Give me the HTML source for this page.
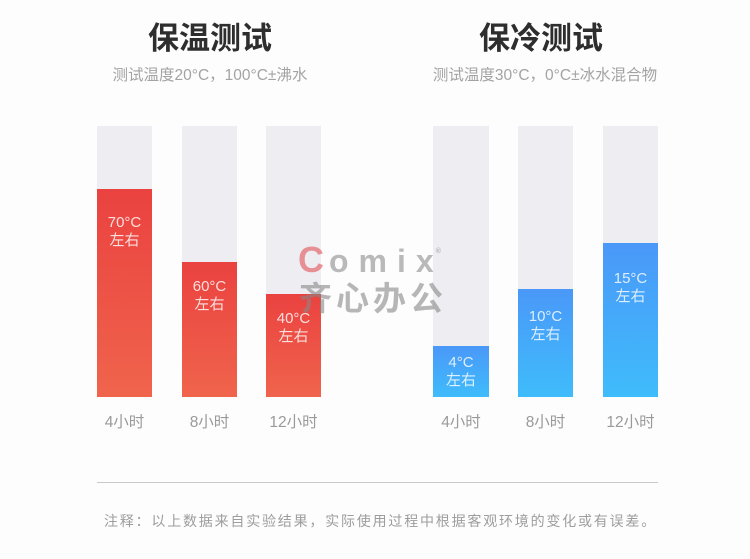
<!DOCTYPE html>
<html><head><meta charset="utf-8"><style>
*{margin:0;padding:0;box-sizing:border-box}
body{width:750px;height:559px;background:#fdfdfd;position:relative;overflow:hidden;font-family:"Liberation Sans","Noto Sans CJK SC",sans-serif}
.a{position:absolute}
.title{font-family:"Liberation Sans","Noto Sans CJK SC",sans-serif;font-weight:700;font-size:31px;color:#2e2e2e;width:300px;text-align:center;line-height:36px;top:21px}
.sub{font-size:15.5px;color:#a3a3a3;width:340px;text-align:center;line-height:20px;top:66px}
.bg{background:#eeeef2;top:126px;height:271px}
.red{background:linear-gradient(180deg,#ea4240 0%,#f0644c 100%)}
.blue{background:linear-gradient(180deg,#4a98f8 0%,#3fbcfb 100%)}
.bl{color:rgba(255,255,255,0.82);font-size:15px;text-align:center;line-height:18px;width:60px}
.xl{color:#9a9a9a;font-size:15.5px;text-align:center;width:80px;line-height:20px;top:413px}
</style></head><body>

<div class="a title" style="left:60px">保温测试</div>
<div class="a title" style="left:391px">保冷测试</div>
<div class="a sub" style="left:40px">测试温度20°C，100°C±沸水</div>
<div class="a sub" style="left:375px">测试温度30°C，0°C±冰水混合物</div>

<!-- left bars -->
<div class="a bg" style="left:97px;width:55px"></div>
<div class="a bg" style="left:182px;width:55px"></div>
<div class="a bg" style="left:266px;width:55px"></div>
<div class="a red" style="left:97px;width:55px;top:189px;height:208px"></div>
<div class="a red" style="left:182px;width:55px;top:262px;height:135px"></div>
<div class="a red" style="left:266px;width:55px;top:294px;height:103px"></div>

<!-- right bars -->
<div class="a bg" style="left:433px;width:56px"></div>
<div class="a bg" style="left:518px;width:55px"></div>
<div class="a bg" style="left:603px;width:55px"></div>
<div class="a blue" style="left:433px;width:56px;top:346px;height:51px"></div>
<div class="a blue" style="left:518px;width:55px;top:289px;height:108px"></div>
<div class="a blue" style="left:603px;width:55px;top:243px;height:154px"></div>

<!-- watermark -->
<div class="a" style="left:298px;top:243px;width:170px;height:34px;white-space:nowrap;font-family:'Liberation Sans',sans-serif;font-weight:700;line-height:34px">
<span style="font-size:36px;color:rgba(225,80,85,0.6);letter-spacing:5px">C</span><span style="font-size:32px;color:rgba(140,140,140,0.6);letter-spacing:10px">omix</span><span style="font-size:7px;color:rgba(140,140,140,0.6);vertical-align:top;position:relative;top:-8px;left:-8px">®</span>
</div>
<div class="a" style="left:299px;top:278px;width:160px;font-family:'Noto Sans CJK SC',sans-serif;font-weight:700;font-size:33px;line-height:36px;letter-spacing:4px;color:rgba(135,135,135,0.6);white-space:nowrap">齐心办公</div>

<!-- bar labels left -->
<div class="a bl" style="left:94.5px;top:214px">70°C<br>左右</div>
<div class="a bl" style="left:179.5px;top:278px">60°C<br>左右</div>
<div class="a bl" style="left:263.5px;top:310px">40°C<br>左右</div>
<!-- bar labels right -->
<div class="a bl" style="left:431px;top:354px">4°C<br>左右</div>
<div class="a bl" style="left:515.5px;top:308px">10°C<br>左右</div>
<div class="a bl" style="left:600.5px;top:270px">15°C<br>左右</div>

<!-- x labels -->
<div class="a xl" style="left:84.5px">4小时</div>
<div class="a xl" style="left:169.5px">8小时</div>
<div class="a xl" style="left:253.5px">12小时</div>
<div class="a xl" style="left:421px">4小时</div>
<div class="a xl" style="left:505.5px">8小时</div>
<div class="a xl" style="left:590.5px">12小时</div>

<!-- rule and note -->
<div class="a" style="left:97px;top:482px;width:561px;height:1px;background:#c9c9c9"></div>
<div class="a" style="left:104px;top:511px;width:600px;font-size:14px;line-height:20px;letter-spacing:1.8px;color:#9d9d9d;white-space:nowrap">注释：以上数据来自实验结果，实际使用过程中根据客观环境的变化或有误差。</div>

</body></html>
